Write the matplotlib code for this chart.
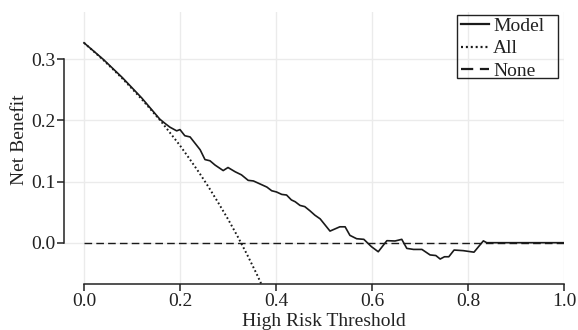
import matplotlib
matplotlib.use("Agg")
import matplotlib.pyplot as plt
from matplotlib.patches import Rectangle

# ---- data ----
model_t = [0.0, 0.04, 0.08, 0.12, 0.158, 0.169, 0.179, 0.193, 0.200, 0.210,
           0.221, 0.231, 0.242, 0.252, 0.2625, 0.273, 0.290, 0.300, 0.315, 0.328,
           0.342, 0.353, 0.367, 0.381, 0.391, 0.401, 0.412, 0.422, 0.432, 0.440,
           0.450, 0.460, 0.471, 0.481, 0.492, 0.5125, 0.533, 0.544, 0.554, 0.568,
           0.583, 0.599, 0.613, 0.631, 0.648, 0.662, 0.6725, 0.6865, 0.704, 0.721,
           0.733, 0.742, 0.751, 0.760, 0.771, 0.790, 0.8125, 0.832, 0.839, 1.0]
model_nb = [0.327, 0.300, 0.270, 0.237, 0.202, 0.195, 0.189, 0.183, 0.185, 0.175,
            0.173, 0.163, 0.152, 0.136, 0.134, 0.127, 0.118, 0.123, 0.116, 0.111,
            0.102, 0.101, 0.096, 0.091, 0.085, 0.083, 0.079, 0.078, 0.070, 0.067,
            0.061, 0.059, 0.052, 0.045, 0.039, 0.019, 0.026, 0.026, 0.012, 0.0065,
            0.0055, -0.0066, -0.0148, 0.0033, 0.0028, 0.0055, -0.0093, -0.011, -0.011, -0.020,
            -0.021, -0.0267, -0.023, -0.023, -0.012, -0.013, -0.0155, 0.003, 0.0, 0.0]

all_t = [0.0, 0.02, 0.04, 0.06, 0.08, 0.10, 0.12, 0.14, 0.16, 0.18, 0.20,
         0.22, 0.24, 0.26, 0.28, 0.30, 0.32, 0.34, 0.36, 0.38]
all_nb = [0.327, 0.313, 0.299, 0.284, 0.2685, 0.252, 0.235, 0.217, 0.199, 0.179, 0.159,
          0.137, 0.1145, 0.0905, 0.065, 0.0386, 0.0103, -0.0197, -0.0516, -0.0855]

none_t = [0.0, 1.0]
none_nb = [0.0, 0.0]

x_ticks = [0.0, 0.2, 0.4, 0.6, 0.8, 1.0]
x_ticklabels = ["0.0", "0.2", "0.4", "0.6", "0.8", "1.0"]
y_ticks = [0.0, 0.1, 0.2, 0.3]
y_ticklabels = ["0.0", "0.1", "0.2", "0.3"]
series_labels = ["Model", "All", "None"]

plt.rcParams['font.family'] = ['Liberation Serif', 'DejaVu Serif']
FS = 14

W, H = 578, 330
fig = plt.figure(figsize=(W / 100, H / 100), dpi=100)
left, right, top, bottom = 64, 564, 12, 284
ax = fig.add_axes([left / W, 1 - bottom / H, (right - left) / W, (bottom - top) / H])

ax.set_xlim(-20 / 480, 1.0)
ax.set_ylim(-(284 - 242.7) / 611.3, (242.7 - 12) / 611.3)

ax.set_xticks(x_ticks)
ax.set_xticklabels(x_ticklabels)
ax.set_yticks(y_ticks)
ax.set_yticklabels(y_ticklabels)
ax.tick_params(axis='both', direction='out', length=5, width=1.1, labelsize=FS,
               colors='#222222')
ax.tick_params(axis='x', pad=1.5)
ax.tick_params(axis='y', pad=0.8)

ax.grid(True, color='#ebebeb', linewidth=1.0)
ax.set_axisbelow(True)

for s in ['top', 'right']:
    ax.spines[s].set_visible(False)
ax.spines['left'].set_bounds(0.0, 0.3)
ax.spines['bottom'].set_bounds(0.0, 1.0)
for s in ['left', 'bottom']:
    ax.spines[s].set_linewidth(1.1)
    ax.spines[s].set_color('#222222')

l1, = ax.plot(model_t, model_nb, color='#1a1a1a', lw=1.2, linestyle='-', zorder=4)
l2, = ax.plot(all_t, all_nb, color='#1a1a1a', lw=1.4, linestyle=(0, (0.9, 1.3)),
              zorder=3)
l3, = ax.plot(none_t, none_nb, color='#1a1a1a', lw=1.0, linestyle=(0, (5.5, 3.0)),
              zorder=3)

# legend: entries without frame, frame drawn as a rectangle around them
leg = fig.legend([l1, l2, l3], series_labels, loc='upper left',
                 bbox_to_anchor=(461 / W, 1 - 17.5 / H), fontsize=FS,
                 frameon=False, borderpad=0.0, labelspacing=0.24,
                 handlelength=1.45, handletextpad=0.2, borderaxespad=0.0)
for t in leg.get_texts():
    t.set_color('#222222')
for h in leg.get_lines():
    h.set_linewidth(1.6)
fig.add_artist(Rectangle((457 / W, 1 - 78 / H), (558 - 457) / W, (78 - 15) / H,
                         transform=fig.transFigure, fill=False,
                         edgecolor='#222222', linewidth=1.0))

fig.text(324 / W, 1 - 326 / H, "High Risk Threshold", fontsize=FS, ha='center',
         va='baseline', color='#222222')
fig.text(24 / W, 1 - 140 / H, "Net Benefit", fontsize=FS, ha='center',
         va='baseline', rotation=90, rotation_mode='anchor', color='#222222')

fig.savefig("out.png", dpi=100)
